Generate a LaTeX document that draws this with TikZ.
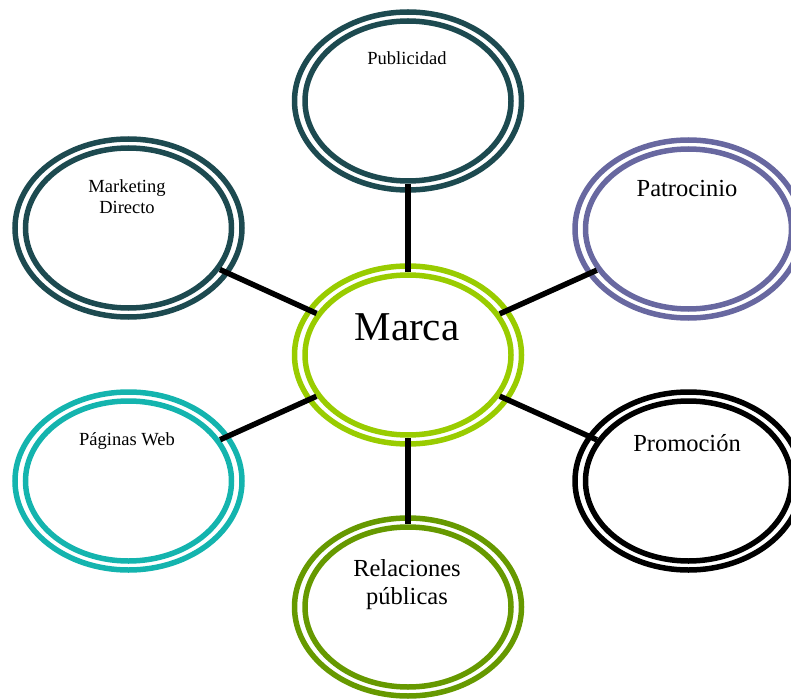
\documentclass[tikz,border=0pt]{standalone}
\usepackage{fontspec}
\setmainfont{Liberation Serif}
\usetikzlibrary{shapes.geometric}
\definecolor{darkteal}{HTML}{1D4A50}
\definecolor{lavender}{HTML}{6868A0}
\definecolor{lime}{HTML}{99CC00}
\definecolor{aqua}{HTML}{14B4AE}
\definecolor{olive}{HTML}{669900}
\tikzset{
  ringout/.style={ellipse, draw=#1, line width=5.5pt, minimum width=227pt, minimum height=178pt, inner sep=0pt},
  ringin/.style={ellipse, draw=#1, line width=5.5pt, minimum width=206pt, minimum height=160pt, inner sep=0pt},
  lbl/.style={anchor=base, align=center, inner sep=0pt, text=black},
  small/.style={font=\fontsize{18.5}{21}\selectfont},
  mid/.style={font=\fontsize{24.5}{28}\selectfont},
  link/.style={draw=black, line width=5.5pt}
}
\begin{document}
\begin{tikzpicture}[x=1pt,y=-1pt]
\useasboundingbox (0,0) rectangle (791,700);
% ellipses
\node[ringout=darkteal] (pubO) at (408,101) {};
\node[ringin=darkteal] (pub) at (408,101) {};
\node[ringout=lime] (marO) at (408,355) {};
\node[ringin=lime] (mar) at (408,355) {};
\node[ringout=olive] (relO) at (408,607) {};
\node[ringin=olive] (rel) at (408,607) {};
\node[ringout=darkteal] (mktO) at (128.5,228) {};
\node[ringin=darkteal] (mkt) at (128.5,228) {};
\node[ringout=lavender] (patO) at (688.5,229) {};
\node[ringin=lavender] (pat) at (688.5,229) {};
\node[ringout=aqua] (pagO) at (128.5,481) {};
\node[ringin=aqua] (pag) at (128.5,481) {};
\node[ringout=black] (proO) at (688.5,481) {};
\node[ringin=black] (pro) at (688.5,481) {};
% connectors
\draw[link] (mar) -- (pub);
\draw[link] (mar) -- (rel);
\draw[link] (mar) -- (mkt);
\draw[link] (mar) -- (pat);
\draw[link] (mar) -- (pag);
\draw[link] (mar) -- (pro);
% labels
\node[lbl, small] (tpub) at (407,65) {Publicidad};
\node[lbl, font=\fontsize{41}{46}\selectfont] (tmar) at (407,340) {Marca};
\node[lbl, small] (tmkt) at (127,213.5) {Marketing\\Directo};
\node[lbl, mid] (tpat) at (687,197) {Patrocinio};
\node[lbl, small] (tpag) at (127,445.5) {Páginas Web};
\node[lbl, mid] (tpro) at (687,451.5) {Promoción};
\node[lbl, mid] (trel) at (407,604) {Relaciones\\públicas};
\end{tikzpicture}
\end{document}
